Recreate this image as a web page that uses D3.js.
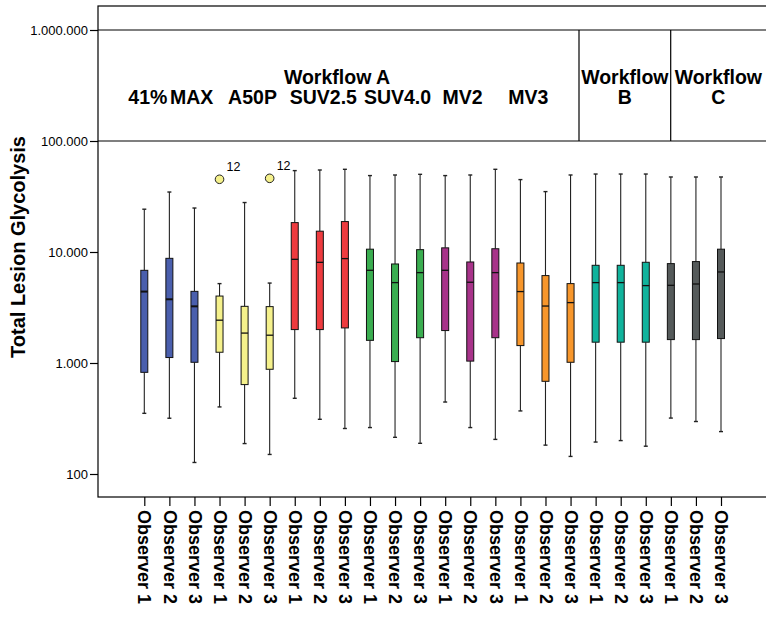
<!DOCTYPE html>
<html>
<head>
<meta charset="utf-8">
<script src="https://cdn.jsdelivr.net/npm/d3@7"></script>
<style>
  html, body { margin: 0; padding: 0; background: #fff; }
  svg { display: block; font-family: "Liberation Sans", Arial, sans-serif; }
</style>
</head>
<body>
<svg id="chart" width="766" height="618"></svg>
<script>
// ---------------- DATA ----------------
const categories = [
  "Observer 1","Observer 2","Observer 3",
  "Observer 1","Observer 2","Observer 3",
  "Observer 1","Observer 2","Observer 3",
  "Observer 1","Observer 2","Observer 3",
  "Observer 1","Observer 2","Observer 3",
  "Observer 1","Observer 2","Observer 3",
  "Observer 1","Observer 2","Observer 3",
  "Observer 1","Observer 2","Observer 3"
];
const methodLabels = ["41%", "MAX", "A50P", "SUV2.5", "SUV4.0", "MV2", "MV3"];
const workflowLabels = [["Workflow A"], ["Workflow", "B"], ["Workflow", "C"]];

const whiskerHigh = [24300, 34700, 24900, 5190, 27900, 5250, 54100, 54800, 55600, 48800, 49400, 50100,
                     48800, 49400, 55600, 44900, 35000, 49400, 50400, 50400, 50400, 47400, 47400, 47400];
const q3          = [6840, 8770, 4420, 4010, 3240, 3220, 18400, 15400, 18800, 10600, 7800, 10500,
                     10900, 8130, 10700, 7960, 6130, 5190, 7590, 7590, 8080, 7860, 8200, 10600];
const median      = [4400, 3750, 3240, 2430, 1860, 1780, 8590, 8070, 8720, 6840, 5300, 6520,
                     6840, 5340, 6520, 4400, 3260, 3500, 5300, 5300, 4980, 5010, 5150, 6610];
const q1          = [824, 1120, 1015, 1250, 639, 878, 2000, 2000, 2070, 1600, 1030, 1690,
                     1960, 1040, 1690, 1435, 684, 1015, 1540, 1540, 1540, 1625, 1625, 1660];
const whiskerLow  = [352, 318, 127, 402, 188, 150, 481, 311, 257, 262, 214, 189,
                     445, 262, 205, 370, 182, 144, 194, 200, 178, 319, 297, 241];
const outliers = [ { index: 3, value: 45200, label: "12" }, { index: 5, value: 46100, label: "12" } ];

const yTickValues = [100, 1000, 10000, 100000, 1000000];
const yTickLabels = ["100", "1.000", "10.000", "100.000", "1.000.000"];
const groupColors = ["#4a5fad", "#f5f18c", "#ee3b3f", "#3aad50", "#a8338a", "#f7962b", "#10b39c", "#555a5a"];

// ---------------- LAYOUT ----------------
const frame = { left: 98, right: 768, top: 6, bottom: 497 };
const methodCenters = [147.8, 191.6, 252.5, 323.3, 397.5, 462.5, 528.3];
const workflowBounds = [98, 579, 670.7, 766];

const svg = d3.select("#chart");
const y = d3.scaleLog().domain([100, 1000000]).range([474, 30]);
const x = d3.scalePoint().domain(d3.range(categories.length)).range([144.3, 721]);
const boxW = 7;

// frame
svg.append("rect")
  .attr("x", frame.left).attr("y", frame.top)
  .attr("width", frame.right - frame.left).attr("height", frame.bottom - frame.top)
  .attr("fill", "none").attr("stroke", "#000").attr("stroke-width", 1.2);

// header band
const hTop = y(1000000), hBot = y(100000);
[hTop, hBot].forEach(v => {
  svg.append("line").attr("x1", frame.left).attr("x2", frame.right)
    .attr("y1", v).attr("y2", v).attr("stroke", "#000").attr("stroke-width", 1.2);
});
workflowBounds.slice(1, 3).forEach(bx => {
  svg.append("line").attr("x1", bx).attr("x2", bx).attr("y1", hTop).attr("y2", hBot)
    .attr("stroke", "#000").attr("stroke-width", 1.2);
});
const hdrFont = 19.5;
// Workflow A title + methods
svg.append("text").attr("x", (workflowBounds[0] + workflowBounds[1]) / 2 - 1.5).attr("y", 84)
  .attr("text-anchor", "middle").attr("font-weight", "bold").attr("font-size", hdrFont)
  .text(workflowLabels[0][0]);
methodLabels.forEach((m, i) => {
  svg.append("text").attr("x", methodCenters[i]).attr("y", 104)
    .attr("text-anchor", "middle").attr("font-weight", "bold").attr("font-size", hdrFont)
    .text(m);
});
[1, 2].forEach(k => {
  const cx = (workflowBounds[k] + workflowBounds[k + 1]) / 2;
  workflowLabels[k].forEach((line, j) => {
    svg.append("text").attr("x", cx).attr("y", 84 + j * 20)
      .attr("text-anchor", "middle").attr("font-weight", "bold").attr("font-size", hdrFont)
      .text(line);
  });
});

// y axis
const yAxis = svg.append("g").attr("transform", `translate(${frame.left},0)`)
  .call(d3.axisLeft(y).tickValues(yTickValues).tickFormat((d, i) => yTickLabels[i]).tickSize(8).tickPadding(2));
yAxis.select(".domain").remove();
yAxis.selectAll("line").attr("stroke", "#000").attr("stroke-width", 1.2);
yAxis.selectAll("text").attr("font-size", 13).attr("fill", "#000")
  .attr("font-family", "'Liberation Sans', Arial, sans-serif");

// y title
svg.append("text").attr("transform", "translate(25,247) rotate(-90)")
  .attr("text-anchor", "middle").attr("font-weight", "bold").attr("font-size", 20)
  .text("Total Lesion Glycolysis");

// x axis
const xAxis = svg.append("g").attr("transform", `translate(0,${frame.bottom})`)
  .call(d3.axisBottom(x).tickFormat((d, i) => categories[i]).tickSize(9));
xAxis.select(".domain").remove();
xAxis.selectAll("line").attr("stroke", "#000").attr("stroke-width", 1.2);
xAxis.selectAll("text")
  .attr("font-size", 18).attr("font-weight", "bold").attr("fill", "#000")
  .attr("font-family", "'Liberation Sans', Arial, sans-serif")
  .attr("y", 0).attr("x", 13).attr("dy", "0.35em")
  .attr("transform", "rotate(90)").style("text-anchor", "start");

// boxes
const boxes = svg.append("g");
categories.forEach((c, i) => {
  const cx = x(i);
  const col = groupColors[Math.floor(i / 3)];
  const g = boxes.append("g");
  g.append("line").attr("x1", cx).attr("x2", cx).attr("y1", y(whiskerHigh[i])).attr("y2", y(q3[i]))
    .attr("stroke", "#222").attr("stroke-width", 1.1);
  g.append("line").attr("x1", cx).attr("x2", cx).attr("y1", y(q1[i])).attr("y2", y(whiskerLow[i]))
    .attr("stroke", "#222").attr("stroke-width", 1.1);
  [whiskerHigh[i], whiskerLow[i]].forEach(v => {
    g.append("line").attr("x1", cx - 2).attr("x2", cx + 2).attr("y1", y(v)).attr("y2", y(v))
      .attr("stroke", "#222").attr("stroke-width", 1.4);
  });
  g.append("rect").attr("x", cx - boxW / 2).attr("width", boxW)
    .attr("y", y(q3[i])).attr("height", y(q1[i]) - y(q3[i]))
    .attr("fill", col).attr("stroke", "#111").attr("stroke-width", 1);
  g.append("line").attr("x1", cx - boxW / 2).attr("x2", cx + boxW / 2)
    .attr("y1", y(median[i])).attr("y2", y(median[i]))
    .attr("stroke", "#111").attr("stroke-width", i < 3 ? 2 : 1.3);
});

// outliers
outliers.forEach(o => {
  const cx = x(o.index), cy = y(o.value);
  svg.append("circle").attr("cx", cx).attr("cy", cy).attr("r", 4.3)
    .attr("fill", groupColors[Math.floor(o.index / 3)]).attr("stroke", "#222").attr("stroke-width", 1);
  svg.append("text").attr("x", cx + 7).attr("y", cy - 8).attr("font-size", 12.5).text(o.label);
});
</script>
</body>
</html>
